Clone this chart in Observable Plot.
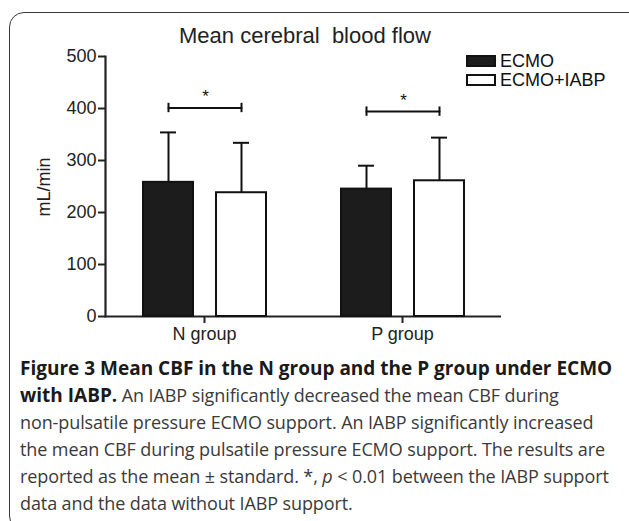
<!DOCTYPE html>
<html>
<head>
<meta charset="utf-8">
<script src="https://cdn.jsdelivr.net/npm/d3@7"></script>
<script src="https://cdn.jsdelivr.net/npm/@observablehq/plot@0.6"></script>
<style>
  html, body { margin: 0; padding: 0; background: #fff; }
  #page { position: relative; width: 629px; height: 521px; overflow: hidden; background: #fff; }
  #box { position: absolute; left: 9px; top: 12px; width: 660px; height: 519px; border: 1.5px solid #3a3a3a; border-radius: 15px; box-sizing: border-box; }
  #chart { position: absolute; left: 0; top: 0; }
  #title { position: absolute; left: 0; width: 610px; top: 23px; text-align: center; font: 22px "Liberation Sans", Arial, sans-serif; color: #222; white-space: pre; }
  .leg { position: absolute; left: 466px; font: 18px/18px "Liberation Sans", Arial, sans-serif; color: #111; display: flex; align-items: center; }
  .sw { width: 26px; height: 8px; border: 2px solid #111; margin-right: 4px; }
  #caption { position: absolute; left: 20px; top: 355px; width: 620px; font: 18px/27px "Open Sans", sans-serif; letter-spacing: -0.1px; color: #3a3a3a; white-space: nowrap; }
  #caption b { color: #1a1a1a; font-size: 19px; letter-spacing: 0; }
</style>
</head>
<body>
<div id="page">
  <div id="box"></div>
  <div id="chart"></div>
  <div id="title"></div>
  <div id="legend"></div>
  <div id="caption"><b>Figure 3 Mean CBF in the N group and the P group under ECMO<br>with IABP.</b> An IABP significantly decreased the mean CBF during<br>non-pulsatile pressure ECMO support. An IABP significantly increased<br>the mean CBF during pulsatile pressure ECMO support. The results are<br>reported as the mean ± standard. *, <i>p</i> &lt; 0.01 between the IABP support<br>data and the data without IABP support.</div>
</div>
<script>
// ---- data ----
const title = "Mean cerebral  blood flow";
const yLabel = "mL/min";
const groups = ["N group", "P group"];
const conditions = ["ECMO", "ECMO+IABP"];
const meanECMO = [258, 245];
const sdECMO = [96, 45];
const meanIABP = [238, 261];
const sdIABP = [96, 83];
const sigBracketY = [401, 394];
const yTicks = [0, 100, 200, 300, 400, 500];
const fillColors = ["#1c1c1c", "#ffffff"];

const rows = [];
groups.forEach((g, i) => {
  rows.push({group: g, cond: conditions[0], mean: meanECMO[i], sd: sdECMO[i]});
  rows.push({group: g, cond: conditions[1], mean: meanIABP[i], sd: sdIABP[i]});
});
const bracketPts = [];
groups.forEach((g, i) => conditions.forEach(c => bracketPts.push({group: g, cond: c, y: sigBracketY[i]})));
const stars = groups.map((g, i) => ({group: g, y: sigBracketY[i]}));

document.getElementById("title").textContent = title;

const chart = Plot.plot({
  width: 629,
  height: 345,
  marginLeft: 105,
  marginRight: 128,
  marginTop: 56,
  marginBottom: 29,
  style: {fontFamily: "Liberation Sans, Arial, sans-serif", fontSize: "18px", background: "transparent", color: "#222"},
  fx: {domain: groups, padding: 0, label: null},
  x: {domain: conditions, paddingInner: 0.32, paddingOuter: 0.51, axis: null},
  y: {domain: [0, 500], label: null},
  color: {domain: conditions, range: fillColors},
  marks: [
    Plot.axisY({ticks: yTicks, tickSize: 7, tickPadding: 2, fontSize: 18, strokeWidth: 2, label: null, stroke: "#222", fill: "#222"}),
    Plot.axisFx({anchor: "bottom", tickSize: 7, tickPadding: 4, fontSize: 18, strokeWidth: 2, label: null, stroke: "#222", fill: "#222"}),
    Plot.frame({anchor: "left", facetAnchor: "left", strokeWidth: 2.2, stroke: "#222"}),
    Plot.ruleY([0], {strokeWidth: 2.2, stroke: "#222"}),
    Plot.ruleX(rows, {fx: "group", x: "cond", y1: "mean", y2: d => d.mean + d.sd, strokeWidth: 2, stroke: "#111"}),
    Plot.tickY(rows, {fx: "group", x: "cond", y: d => d.mean + d.sd, insetLeft: 17, insetRight: 17, strokeWidth: 2, stroke: "#111"}),
    Plot.barY(rows, {fx: "group", x: "cond", y: "mean", fill: "cond", stroke: "#111", strokeWidth: 2}),
    Plot.line(bracketPts, {fx: "group", x: "cond", y: "y", z: "group", strokeWidth: 2, stroke: "#111"}),
    Plot.ruleX(bracketPts, {fx: "group", x: "cond", y1: d => d.y - 9, y2: d => d.y + 9, strokeWidth: 2, stroke: "#111"}),
    Plot.text(stars, {fx: "group", y: "y", text: () => "*", dy: -11, dx: 1, fontSize: 17, fill: "#111"})
  ]
});
document.getElementById("chart").appendChild(chart);

// y label
const yl = document.createElementNS("http://www.w3.org/2000/svg", "text");
yl.setAttribute("transform", "translate(50,187) rotate(-90)");
yl.setAttribute("text-anchor", "middle");
yl.setAttribute("font-size", "18");
yl.setAttribute("fill", "#222");
yl.textContent = yLabel;
chart.appendChild(yl);

// legend
const leg = document.getElementById("legend");
conditions.forEach((c, i) => {
  const item = document.createElement("div");
  item.className = "leg";
  item.style.top = (52 + i * 19) + "px";
  const sw = document.createElement("span");
  sw.className = "sw";
  sw.style.background = fillColors[i];
  item.appendChild(sw);
  item.appendChild(document.createTextNode(c));
  leg.appendChild(item);
});
</script>
</body>
</html>
